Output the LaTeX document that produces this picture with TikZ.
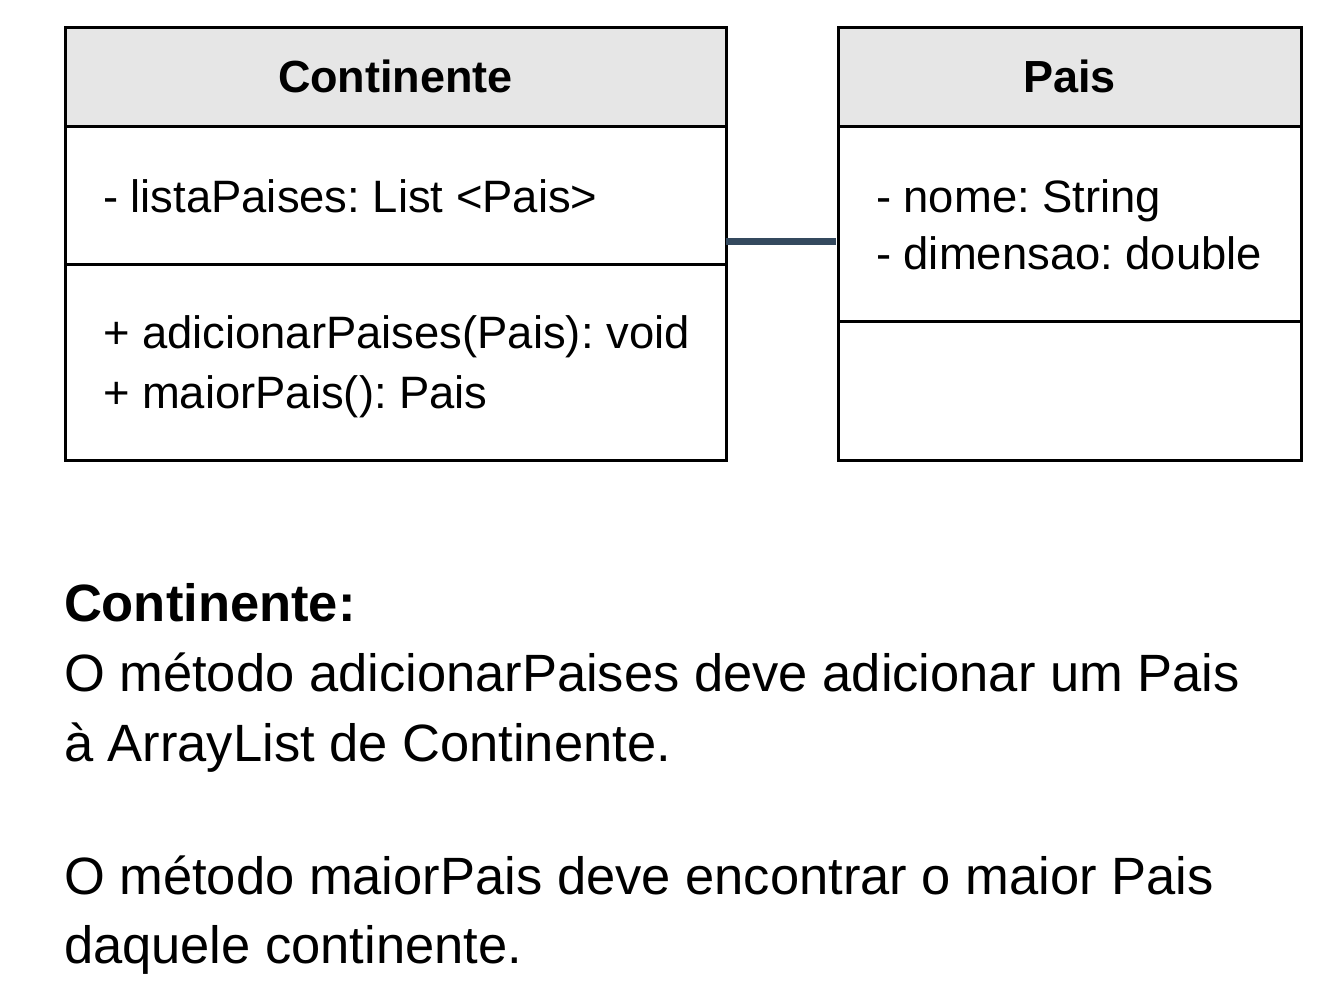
\documentclass[tikz,border=0pt]{standalone}
\usepackage{fontspec}
\setmainfont{Liberation Sans}
\usepackage{tikz}
\usetikzlibrary{positioning}
\frenchspacing
\definecolor{headgray}{RGB}{230,230,230}
\definecolor{linkcolor}{HTML}{34495E}
\tikzstyle{every node}=[inner sep=0pt,outer sep=0pt]
\tikzstyle{classpart}=[draw,line width=3pt,anchor=north west]
\tikzstyle{classhead}=[classpart,fill=headgray,font=\fontsize{45}{50}\selectfont\bfseries]
\tikzstyle{member}=[anchor=base west,font=\fontsize{45.4}{50}\selectfont]
\tikzstyle{note}=[anchor=base west,font=\fontsize{52.5}{70}\selectfont]
\tikzstyle{link}=[line width=7pt,linkcolor,shorten >=2pt]

\begin{document}
\begin{tikzpicture}[x=1pt,y=-1pt]
\useasboundingbox[fill=white] (0,0) rectangle (1326,997);

\node[classhead,minimum width=661pt,minimum height=99pt] (contHead) at (65,27) {Continente};
\node[classpart,minimum width=661pt,minimum height=138pt] (contAttr) at (contHead.south west) {};
\node[classpart,minimum width=661pt,minimum height=196pt] (contOps) at (contAttr.south west) {};
\node[member] (contLista) at (103,212) {- listaPaises: List <Pais>};
\node[member] (contAdd) at (103,348) {+ adicionarPaises(Pais): void};
\node[member] (contMaior) at (103,408) {+ maiorPais(): Pais};

\node[classhead,minimum width=463pt,minimum height=99pt] (paisHead) at (838,27) {Pais};
\node[classpart,minimum width=463pt,minimum height=195pt] (paisAttr) at (paisHead.south west) {};
\node[classpart,minimum width=463pt,minimum height=139pt] (paisOps) at (paisAttr.south west) {};
\node[member] (paisNome) at (876,212) {- nome: String};
\node[member] (paisDim) at (876,269) {- dimensao: double};

\draw[link] ([yshift=-46pt]contAttr.east) -- ([yshift=-17.5pt]paisAttr.west);

\node[note,font=\fontsize{52.5}{70}\selectfont\bfseries] (note1) at (64,621) {Continente:};
\node[note] (note2) at (64,691) {O método adicionarPaises deve adicionar um Pais};
\node[note] (note3) at (64,761) {à ArrayList de Continente.};
\node[note] (note4) at (64,894) {O método maiorPais deve encontrar o maior Pais};
\node[note] (note5) at (64,963) {daquele continente.};
\end{tikzpicture}
\end{document}
